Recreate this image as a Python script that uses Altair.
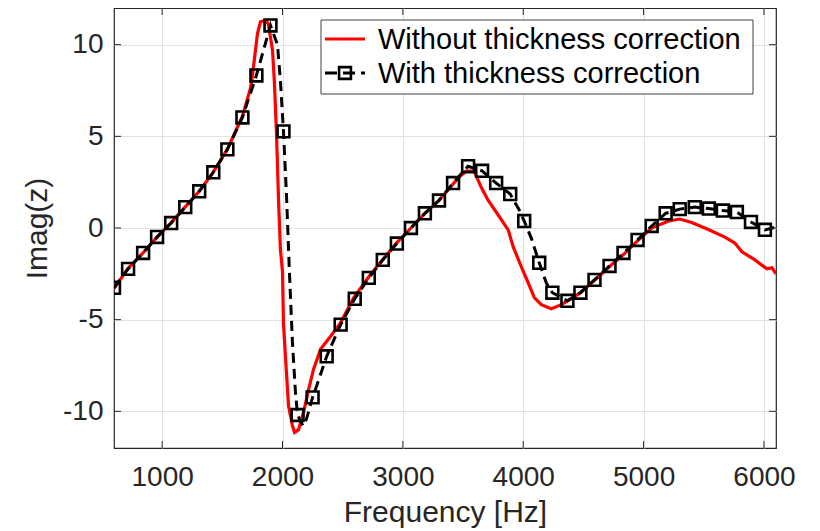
import altair as alt
import pandas as pd

# ---- data ----
red_freq = [600, 717, 842, 958, 1075, 1192, 1308, 1425, 1542, 1667, 1733, 1750, 1792, 1817, 1842, 1870, 1883,
            1917, 1933, 1950, 1967, 1983, 2000, 2008, 2033, 2050, 2083, 2100, 2133, 2175, 2217, 2258, 2317,
            2400, 2483, 2592, 2717, 2842, 2950, 3067, 3183, 3300, 3417, 3480, 3525, 3592, 3650, 3708, 3792,
            3875, 3917, 3983, 4042, 4092, 4150, 4233, 4317, 4400, 4475, 4592, 4717, 4833, 4925, 5067, 5208,
            5300, 5400, 5542, 5675, 5758, 5817, 5925, 6025, 6067, 6100]
red_imag = [-3.3, -2.2, -1.35, -0.5, 0.3, 1.15, 2.0, 3.05, 4.3, 6.1, 7.6, 8.3, 10.6, 11.25, 11.3, 11.25, 11.1,
            9.7, 7.9, 5.16, 1.5, -1.2, -2.4, -5.2, -7.9, -9.7, -10.8, -11.15, -11.0, -10.05, -8.8, -7.7, -6.6,
            -5.9, -5.16, -3.8, -2.66, -1.65, -0.8, 0.0, 0.8, 1.5, 2.4, 2.85, 3.1, 3.1, 2.23, 1.52, 0.71,
            -0.1, -1.03, -2.1, -3.0, -3.8, -4.18, -4.4, -4.18, -3.85, -3.53, -2.85, -2.1, -1.45, -0.85, 0.0, 0.38,
            0.49, 0.3, -0.1, -0.5, -0.82, -1.3, -1.74, -2.23, -2.17, -2.5]

blk_freq = [600, 717, 842, 958, 1075, 1192, 1308, 1425, 1542, 1667, 1783, 1900, 1958, 1983, 2008, 2033, 2058,
            2083, 2108, 2125, 2170, 2200, 2250, 2300, 2367, 2483, 2600, 2717, 2833, 2950, 3067, 3183, 3300,
            3417, 3542, 3658, 3775, 3892, 3967, 4008, 4067, 4133, 4192, 4242, 4367, 4475, 4592, 4717, 4833,
            4950, 5067, 5183, 5300, 5425, 5542, 5658, 5775, 5892, 6008, 6100]
blk_imag = [-3.26, -2.23, -1.36, -0.49, 0.27, 1.14, 2.0, 3.04, 4.29, 6.03, 8.32, 11.05, 10.0, 8.0, 5.27, 1.8, -2.5,
            -6.3, -9.0, -10.2, -10.8, -10.4, -9.24, -8.3, -7.0, -5.27, -3.86, -2.72, -1.74, -0.85, 0.0, 0.8, 1.5,
            2.45, 3.37, 3.12, 2.45, 1.85, 0.98, 0.38, -0.55, -1.9, -3.0, -3.53, -3.97, -3.53, -2.83, -2.07, -1.36,
            -0.65, 0.11, 0.8, 1.03, 1.14, 1.06, 0.95, 0.87, 0.33, -0.1, 0.05]

mk_freq = [600, 717, 842, 958, 1075, 1192, 1308, 1425, 1542, 1667, 1783, 1900, 2008, 2125, 2250, 2367, 2483,
           2600, 2717, 2833, 2950, 3067, 3183, 3300, 3417, 3542, 3658, 3775, 3892, 4008, 4133, 4242, 4367,
           4475, 4592, 4717, 4833, 4950, 5067, 5183, 5300, 5425, 5542, 5658, 5775, 5892, 6008]
mk_imag = [-3.26, -2.23, -1.36, -0.49, 0.27, 1.14, 2.0, 3.04, 4.29, 6.03, 8.32, 11.05, 5.27, -10.2, -9.24, -7.0,
           -5.27, -3.86, -2.72, -1.74, -0.85, 0.0, 0.8, 1.5, 2.45, 3.37, 3.12, 2.45, 1.85, 0.38, -1.9, -3.53,
           -3.97, -3.53, -2.83, -2.07, -1.36, -0.65, 0.11, 0.8, 1.03, 1.14, 1.06, 0.95, 0.87, 0.33, -0.1]

x_ticks = [1000, 2000, 3000, 4000, 5000, 6000]
y_ticks = [-10, -5, 0, 5, 10]
series_names = ["Without thickness correction", "With thickness correction"]
x_title = "Frequency [Hz]"
y_title = "Imag(z)"

# ---- style ----
W, H = 662, 440
FONT = "Liberation Sans"
TXT = "#262626"
GRID = "#e2e2e2"
RED = "#ff0000"
TICK = 7

xs = alt.Scale(domain=[600, 6100], nice=False, zero=False)
ys = alt.Scale(domain=[-12, 12], nice=False, zero=False)

red_df = pd.DataFrame({"f": red_freq, "z": red_imag})
blk_df = pd.DataFrame({"f": blk_freq, "z": blk_imag})
mk_df = pd.DataFrame({"f": mk_freq, "z": mk_imag})
xt_df = pd.DataFrame({"f": x_ticks})
yt_df = pd.DataFrame({"z": y_ticks})
one = pd.DataFrame({"k": [0]})

x_axis = alt.Axis(values=x_ticks, title=x_title, grid=True, gridColor=GRID, gridWidth=1, tickSize=0,
                  domain=False, labelFontSize=28, labelColor=TXT, labelPadding=15, labelFont=FONT,
                  titleFont=FONT, titleFontSize=30, titleFontWeight="normal", titleColor=TXT,
                  titlePadding=6, labelFlush=False, labelExpr="datum.value")
y_axis = alt.Axis(values=y_ticks, title=y_title, grid=True, gridColor=GRID, gridWidth=1, tickSize=0,
                  domain=False, labelFontSize=28, labelColor=TXT, labelPadding=11, labelFont=FONT,
                  titleFont=FONT, titleFontSize=30, titleFontWeight="normal", titleColor=TXT,
                  titlePadding=10, labelFlush=False, labelExpr="datum.value")

X = alt.X("f:Q", scale=xs, axis=x_axis)
Y = alt.Y("z:Q", scale=ys, axis=y_axis)

red = alt.Chart(red_df).mark_line(color=RED, strokeWidth=3.2, clip=True).encode(x=X, y=Y)

blk = alt.Chart(blk_df).mark_line(color="black", strokeWidth=3, strokeDash=[10, 6], clip=True).encode(x=X, y=Y)

mk = alt.Chart(mk_df).mark_point(shape="square", filled=False, color="black", strokeWidth=2.6,
                                  size=140, opacity=1, clip=True).encode(x=X, y=Y)

tick_b = alt.Chart(xt_df).mark_rule(color=TXT, strokeWidth=1).encode(
    x=X, y=alt.value(H), y2=alt.value(H - TICK))
tick_t = alt.Chart(xt_df).mark_rule(color=TXT, strokeWidth=1).encode(
    x=X, y=alt.value(0), y2=alt.value(TICK))
tick_l = alt.Chart(yt_df).mark_rule(color=TXT, strokeWidth=1).encode(
    y=Y, x=alt.value(0), x2=alt.value(TICK))
tick_r = alt.Chart(yt_df).mark_rule(color=TXT, strokeWidth=1).encode(
    y=Y, x=alt.value(W), x2=alt.value(W - TICK))

# ---- legend (drawn as a box inside the plot, top right) ----
LX0, LX1, LY0, LY1 = 207, 639, 12, 86
leg_box = alt.Chart(one).mark_rect(fill="white", stroke="#404040", strokeWidth=1).encode(
    x=alt.value(LX0), x2=alt.value(LX1), y=alt.value(LY0), y2=alt.value(LY1))
leg_red = alt.Chart(one).mark_rule(color=RED, strokeWidth=3.2).encode(
    x=alt.value(211), x2=alt.value(251), y=alt.value(31))
leg_blk = alt.Chart(one).mark_rule(color="black", strokeWidth=3, strokeDash=[12, 6]).encode(
    x=alt.value(211), x2=alt.value(251), y=alt.value(65))
leg_sq = alt.Chart(one).mark_point(shape="square", filled=False, color="black", strokeWidth=2.6,
                                   size=140, opacity=1).encode(x=alt.value(231), y=alt.value(65))
leg_t1 = alt.Chart(pd.DataFrame({"name": [series_names[0]]})).mark_text(
    align="left", baseline="middle", font=FONT, fontSize=29, color="black").encode(
    text="name:N", x=alt.value(264), y=alt.value(32))
leg_t2 = alt.Chart(pd.DataFrame({"name": [series_names[1]]})).mark_text(
    align="left", baseline="middle", font=FONT, fontSize=29, color="black").encode(
    text="name:N", x=alt.value(264), y=alt.value(66))

chart = alt.layer(
    red, blk, mk, tick_b, tick_t, tick_l, tick_r,
    leg_box, leg_red, leg_blk, leg_sq, leg_t1, leg_t2
).properties(
    width=W, height=H,
    autosize=alt.AutoSizeParams(type="none"),
    padding={"left": 106, "top": 0, "right": 30, "bottom": 82},
).configure(font=FONT).configure_view(stroke=TXT, strokeWidth=1.2)

chart.save("out.html", embed_options={"renderer": "svg", "actions": False})
